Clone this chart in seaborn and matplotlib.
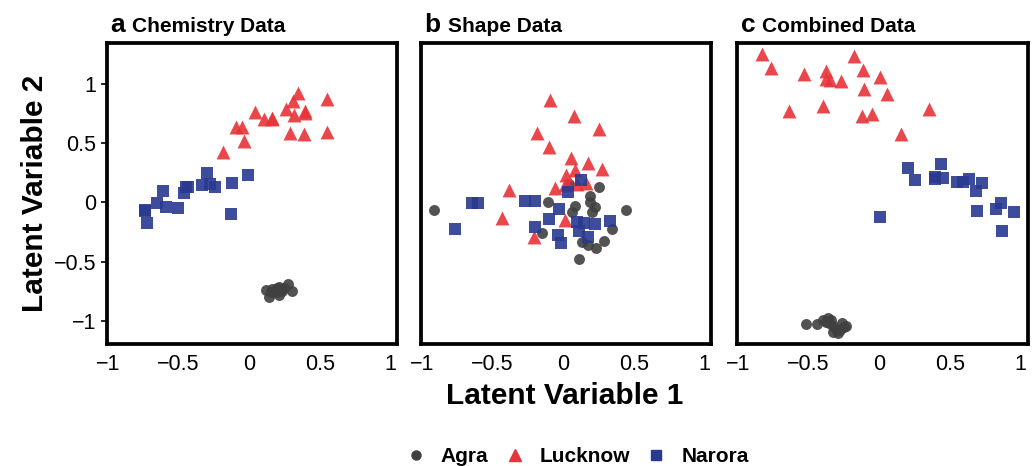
import numpy as np
import pandas as pd
import matplotlib
matplotlib.use("Agg")
import matplotlib.pyplot as plt
from matplotlib.lines import Line2D
import seaborn as sns

sns.set_style("white")
plt.rcParams["font.family"] = ["Liberation Sans", "DejaVu Sans"]
plt.rcParams["axes.unicode_minus"] = True
for key in ["text.color", "axes.labelcolor", "xtick.color", "ytick.color"]:
    plt.rcParams[key] = "black"

# ---- latent variable scores per dataset and site ----
chem_agra_x = [0.117, 0.141, 0.212, 0.275, 0.305, 0.200, 0.177, 0.223, 0.155, 0.212, 0.188, 0.235, 0.165, 0.247]
chem_agra_y = [-0.739, -0.800, -0.780, -0.691, -0.745, -0.720, -0.750, -0.735, -0.755, -0.710, -0.760, -0.750, -0.730, -0.720]
chem_luck_x = [0.345, 0.310, 0.551, 0.260, 0.399, 0.399, 0.321, 0.040, 0.106, 0.166, 0.160, -0.089, -0.047, -0.035, -0.181, 0.289, 0.392, 0.554]
chem_luck_y = [0.923, 0.853, 0.868, 0.789, 0.769, 0.755, 0.733, 0.761, 0.699, 0.708, 0.700, 0.637, 0.637, 0.519, 0.421, 0.581, 0.575, 0.595]
chem_nar_x = [-0.298, -0.010, -0.118, -0.334, -0.275, -0.240, -0.430, -0.446, -0.463, -0.606, -0.650, -0.587, -0.503, -0.735, -0.733, -0.721, -0.130]
chem_nar_y = [0.244, 0.227, 0.160, 0.146, 0.154, 0.131, 0.131, 0.126, 0.081, 0.093, -0.008, -0.042, -0.051, -0.065, -0.076, -0.174, -0.099]

shape_agra_x = [-0.910, 0.447, 0.254, 0.040, 0.193, 0.193, -0.110, 0.085, 0.224, 0.061, 0.207, 0.349, -0.148, 0.134, 0.174, 0.292, 0.233, 0.111]
shape_agra_y = [-0.067, -0.065, 0.131, 0.154, 0.056, 0.005, -0.001, -0.028, -0.042, -0.084, -0.084, -0.225, -0.256, -0.334, -0.357, -0.323, -0.382, -0.478]
shape_luck_x = [-0.094, 0.078, -0.181, 0.254, -0.101, 0.059, 0.176, 0.275, 0.083, 0.024, 0.031, 0.017, 0.099, 0.165, -0.054, -0.383, -0.430, 0.017, -0.205]
shape_luck_y = [0.862, 0.727, 0.581, 0.615, 0.463, 0.371, 0.334, 0.283, 0.272, 0.230, 0.154, 0.143, 0.152, 0.165, 0.123, 0.104, -0.135, -0.149, -0.295]
shape_nar_x = [0.125, 0.033, -0.642, -0.604, -0.268, -0.198, -0.030, -0.101, -0.200, -0.762, 0.099, 0.148, 0.226, 0.334, 0.116, -0.035, -0.011, 0.174]
shape_nar_y = [0.188, 0.084, -0.003, -0.003, 0.008, 0.008, -0.059, -0.143, -0.205, -0.228, -0.166, -0.177, -0.183, -0.155, -0.244, -0.278, -0.340, -0.290]

comb_agra_x = [-0.521, -0.439, -0.401, -0.366, -0.342, -0.331, -0.331, -0.296, -0.261, -0.249, -0.237, -0.306, -0.275, -0.355, -0.378]
comb_agra_y = [-1.028, -1.025, -0.992, -0.972, -0.992, -1.042, -1.090, -1.104, -1.019, -1.053, -1.042, -1.065, -1.076, -1.019, -1.005]
comb_luck_x = [-0.831, -0.180, -0.768, -0.530, -0.378, -0.117, 0.003, -0.378, -0.349, -0.270, -0.108, 0.056, -0.636, -0.396, -0.124, -0.051, 0.348, 0.155]
comb_luck_y = [1.249, 1.235, 1.131, 1.081, 1.106, 1.117, 1.058, 1.036, 1.030, 1.022, 0.952, 0.912, 0.772, 0.811, 0.727, 0.744, 0.789, 0.575]
comb_nar_x = [0.204, 0.437, 0.254, 0.392, 0.397, 0.451, 0.549, 0.589, 0.632, 0.730, 0.681, 0.690, 0.862, 0.824, 0.956, 0.871, 0.007]
comb_nar_y = [0.286, 0.320, 0.185, 0.211, 0.194, 0.208, 0.168, 0.168, 0.194, 0.160, 0.095, -0.076, -0.006, -0.054, -0.084, -0.244, -0.126]

sites = ["Agra", "Lucknow", "Narora"]
panel_letters = ["a", "b", "c"]
panel_titles = ["Chemistry Data", "Shape Data", "Combined Data"]
tick_values = [-1, -0.5, 0, 0.5, 1]
tick_labels = ["\u22121", "\u22120.5", "0", "0.5", "1"]

datasets = [
    {"Agra": (chem_agra_x, chem_agra_y), "Lucknow": (chem_luck_x, chem_luck_y), "Narora": (chem_nar_x, chem_nar_y)},
    {"Agra": (shape_agra_x, shape_agra_y), "Lucknow": (shape_luck_x, shape_luck_y), "Narora": (shape_nar_x, shape_nar_y)},
    {"Agra": (comb_agra_x, comb_agra_y), "Lucknow": (comb_luck_x, comb_luck_y), "Narora": (comb_nar_x, comb_nar_y)},
]

palette = {"Agra": "#404040", "Lucknow": "#e8333a", "Narora": "#283a90"}
markers = {"Agra": "o", "Lucknow": "^", "Narora": "s"}
sizes = {"Agra": 62, "Lucknow": 100, "Narora": 74}

fig = plt.figure(figsize=(10.36, 4.66), dpi=100)
lefts = [0.1033, 0.4064, 0.7117]
width = 0.2803
bottom, height = 0.2618, 0.6453

for i, data in enumerate(datasets):
    ax = fig.add_axes([lefts[i], bottom, width, height])
    rows = []
    for site in sites:
        xs, ys = data[site]
        for x, y in zip(xs, ys):
            rows.append({"LV1": x, "LV2": y, "Site": site})
    df = pd.DataFrame(rows)
    for site in sites:
        sub = df[df["Site"] == site]
        sns.scatterplot(data=sub, x="LV1", y="LV2", ax=ax, color=palette[site],
                        marker=markers[site], s=sizes[site], alpha=0.9,
                        linewidth=0, legend=False)
    ax.set_xlim(-1.005, 1.05)
    ax.set_ylim(-1.194, 1.34)
    ax.set_xticks(tick_values)
    ax.set_xticklabels(tick_labels, fontsize=15.5)
    ax.set_xlabel("")
    ax.set_ylabel("")
    for sp in ax.spines.values():
        sp.set_linewidth(2.7)
        sp.set_color("black")
    ax.tick_params(axis="x", direction="out", length=4.5, width=1.2, color="black", pad=3)
    if i == 0:
        ax.set_yticks(tick_values)
        ax.set_yticklabels(tick_labels, fontsize=15.5)
        ax.tick_params(axis="y", direction="out", length=4.5, width=1.2, color="black", pad=3, left=True)
    else:
        ax.set_yticks([])
    letter = ax.text(0.012, 1.037, panel_letters[i], transform=ax.transAxes, fontsize=19,
                     fontweight="bold", ha="left", va="baseline")
    fig.canvas.draw()
    bb = letter.get_window_extent()
    x_axes = ax.transAxes.inverted().transform((bb.x1 + 7, bb.y0))[0]
    ax.text(x_axes, 1.037, panel_titles[i], transform=ax.transAxes, fontsize=15,
            fontweight="bold", ha="left", va="baseline")

fig.text(0.034, bottom + height / 2, "Latent Variable 2", rotation=90, fontsize=21.5,
         fontweight="bold", ha="center", va="center")
fig.text(0.545, 0.15, "Latent Variable 1", fontsize=21.5, fontweight="bold",
         ha="center", va="center")

handles = [Line2D([], [], linestyle="none", marker=markers[s], color=palette[s],
                  markersize={"Agra": 6.5, "Lucknow": 9, "Narora": 6.5}[s], label=s)
           for s in sites]
leg = fig.legend(handles=handles, loc="center", bbox_to_anchor=(0.557, 0.02), ncol=3,
                 frameon=False, prop={"weight": "bold", "size": 15},
                 handletextpad=0.7, columnspacing=0.75, handlelength=1.0)

fig.savefig("out.png", dpi=100)
